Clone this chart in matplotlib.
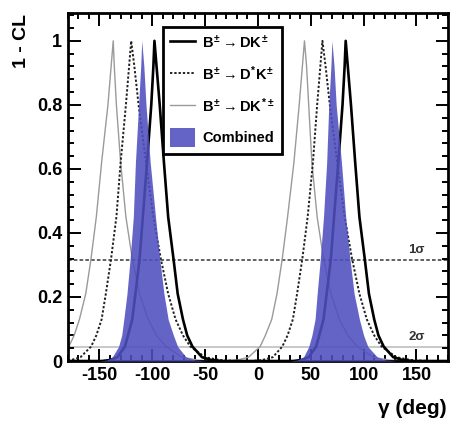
import matplotlib
matplotlib.use("Agg")
import matplotlib.pyplot as plt
from matplotlib.patches import Patch
from matplotlib.lines import Line2D

plt.rcParams['font.family'] = ['Liberation Sans', 'DejaVu Sans']
plt.rcParams['font.weight'] = 'bold'
plt.rcParams['mathtext.fontset'] = 'custom'
plt.rcParams['mathtext.rm'] = 'Liberation Sans:bold'
plt.rcParams['mathtext.it'] = 'Liberation Sans:bold'
plt.rcParams['mathtext.bf'] = 'Liberation Sans:bold'

# 1-CL curves (gamma in degrees)
x_dk = [-180, -148, -140, -133, -126, -123, -119, -116, -112, -109, -105, -101, -99, -98,
        -96, -93, -89, -85, -80, -76, -71, -67, -62, -53, -44, -33,
        33, 41, 48, 55, 58, 62, 65, 69, 72, 76, 80, 82, 83,
        85, 88, 92, 96, 101, 105, 110, 114, 119, 128, 137, 148, 180]
y_dk = [0, 0, 0.003, 0.012, 0.045, 0.08, 0.13, 0.21, 0.32, 0.45, 0.62, 0.80, 0.92, 1.0,
        0.92, 0.80, 0.62, 0.45, 0.32, 0.21, 0.13, 0.08, 0.045, 0.012, 0.003, 0,
        0, 0.003, 0.012, 0.045, 0.08, 0.13, 0.21, 0.32, 0.45, 0.62, 0.80, 0.92, 1.0,
        0.92, 0.80, 0.62, 0.45, 0.32, 0.21, 0.13, 0.08, 0.045, 0.012, 0.003, 0, 0]

x_dstk = [-188, -177, -168, -158, -153, -148, -144, -139, -134, -130, -125, -122, -120,
          -117, -113, -106, -99, -92, -85, -78, -71, -64, -50, -36, -19,
          -7, 4, 14, 23, 28, 33, 37, 42, 47, 52, 56, 59, 61,
          64, 68, 75, 82, 89, 96, 103, 110, 117, 131, 145, 162, 180]
y_dstk = [0, 0.003, 0.012, 0.045, 0.08, 0.13, 0.21, 0.32, 0.45, 0.62, 0.80, 0.92, 1.0,
          0.92, 0.80, 0.62, 0.45, 0.32, 0.21, 0.13, 0.08, 0.045, 0.012, 0.003, 0,
          0, 0.003, 0.012, 0.045, 0.08, 0.13, 0.21, 0.32, 0.45, 0.62, 0.80, 0.92, 1.0,
          0.92, 0.80, 0.62, 0.45, 0.32, 0.21, 0.13, 0.08, 0.045, 0.012, 0.003, 0, 0]

x_dkst = [-213, -200, -190, -179, -174, -169, -163, -158, -153, -148, -142, -139, -137,
          -136, -134, -130, -125, -119, -112, -104, -96, -87, -72, -57, -42,
          -32, -19, -9, 2, 7, 13, 18, 23, 28, 34, 39, 42, 44,
          46, 48, 51, 56, 62, 69, 77, 85, 94, 109, 124, 139, 180]
y_dkst = [0, 0.003, 0.012, 0.045, 0.08, 0.13, 0.21, 0.32, 0.45, 0.62, 0.80, 0.92, 1.0,
          0.92, 0.80, 0.62, 0.45, 0.32, 0.21, 0.13, 0.08, 0.045, 0.012, 0.003, 0,
          0, 0.003, 0.012, 0.045, 0.08, 0.13, 0.21, 0.32, 0.45, 0.62, 0.80, 0.92, 1.0,
          0.92, 0.80, 0.62, 0.45, 0.32, 0.21, 0.13, 0.08, 0.045, 0.012, 0.003, 0, 0]

x_comb = [-180, -150, -143, -138, -132, -129, -127, -124, -121, -118, -116, -113, -111, -110,
          -108, -106, -102, -97, -93, -89, -85, -80, -76, -68, -59, -49,
          30, 37, 43, 48, 51, 54, 56, 59, 62, 65, 67, 69, 70,
          72, 74, 79, 83, 87, 91, 96, 100, 104, 113, 121, 131, 180]
y_comb = [0, 0, 0.003, 0.012, 0.045, 0.08, 0.13, 0.21, 0.32, 0.45, 0.62, 0.80, 0.92, 1.0,
          0.92, 0.80, 0.62, 0.45, 0.32, 0.21, 0.13, 0.08, 0.045, 0.012, 0.003, 0,
          0, 0.003, 0.012, 0.045, 0.08, 0.13, 0.21, 0.32, 0.45, 0.62, 0.80, 0.92, 1.0,
          0.92, 0.80, 0.62, 0.45, 0.32, 0.21, 0.13, 0.08, 0.045, 0.012, 0.003, 0, 0]

one_sigma = 0.317
two_sigma = 0.045

labels = [r'$B^{\pm}\rightarrow DK^{\pm}$', r'$B^{\pm}\rightarrow D^{*}K^{\pm}$',
          r'$B^{\pm}\rightarrow DK^{*\pm}$', 'Combined']

fig = plt.figure(figsize=(4.55, 4.28), dpi=100)
ax = fig.add_axes([0.149, 0.1565, 0.836, 0.8135])

blue = '#4f4fc0'

ax.axhline(two_sigma, color='#c4c4c4', lw=1.3, zorder=1)
ax.axhline(one_sigma, color='#555555', lw=1.3, ls=(0, (2, 1.2)), zorder=1)

ax.plot(x_dkst, y_dkst, color='#9a9a9a', lw=1.0, zorder=2)
ax.plot(x_dstk, y_dstk, color='#222222', lw=1.4, ls=(0, (1.2, 1.0)), zorder=2)
ax.plot(x_dk, y_dk, color='black', lw=1.9, zorder=2)
ax.fill_between(x_comb, y_comb, 0, color=blue, alpha=0.88, lw=0, zorder=3)

ax.text(150, one_sigma + 0.012, '1σ', fontsize=9.5, ha='center', va='bottom', color='#333333')
ax.text(150, two_sigma + 0.012, '2σ', fontsize=9.5, ha='center', va='bottom', color='#333333')

ax.set_xlim(-180, 180)
ax.set_ylim(0, 1.0875)
ax.set_xticks([-150, -100, -50, 0, 50, 100, 150])
ax.set_xticklabels(['-150', '-100', '-50', '0', '50', '100', '150'])
ax.set_xticks(range(-180, 181, 10), minor=True)
ax.set_yticks([0, 0.2, 0.4, 0.6, 0.8, 1.0])
ax.set_yticklabels(['0', '0.2', '0.4', '0.6', '0.8', '1'])
ax.set_yticks([i * 0.04 for i in range(28)], minor=True)
ax.tick_params(which='both', direction='in', top=True, right=True, labelsize=13, width=1.4)
ax.tick_params(which='major', length=9, pad=4)
ax.tick_params(which='minor', length=4.5)
for sp in ax.spines.values():
    sp.set_linewidth(2.0)

handles = [Line2D([], [], color='black', lw=1.9),
           Line2D([], [], color='#222222', lw=1.4, ls=(0, (1.2, 1.0))),
           Line2D([], [], color='#9a9a9a', lw=1.0),
           Patch(facecolor=blue, edgecolor='none', alpha=0.88)]
leg = ax.legend(handles, labels, loc='upper left', bbox_to_anchor=(0.25, 0.96),
                borderaxespad=0, fontsize=10.5, frameon=True, fancybox=False,
                framealpha=1, edgecolor='black', handlelength=1.7, handleheight=1.6,
                labelspacing=0.8, borderpad=0.5, handletextpad=0.5)
leg.get_frame().set_linewidth(2.0)
leg.set_zorder(5)

fig.text(22 / 455, 1 - 14 / 428, '1 - CL', rotation=90, ha='center', va='top', fontsize=14)
fig.text(447 / 455, 1 - 409 / 428, 'γ (deg)', ha='right', va='center', fontsize=15)

fig.savefig('out.png', dpi=100)
